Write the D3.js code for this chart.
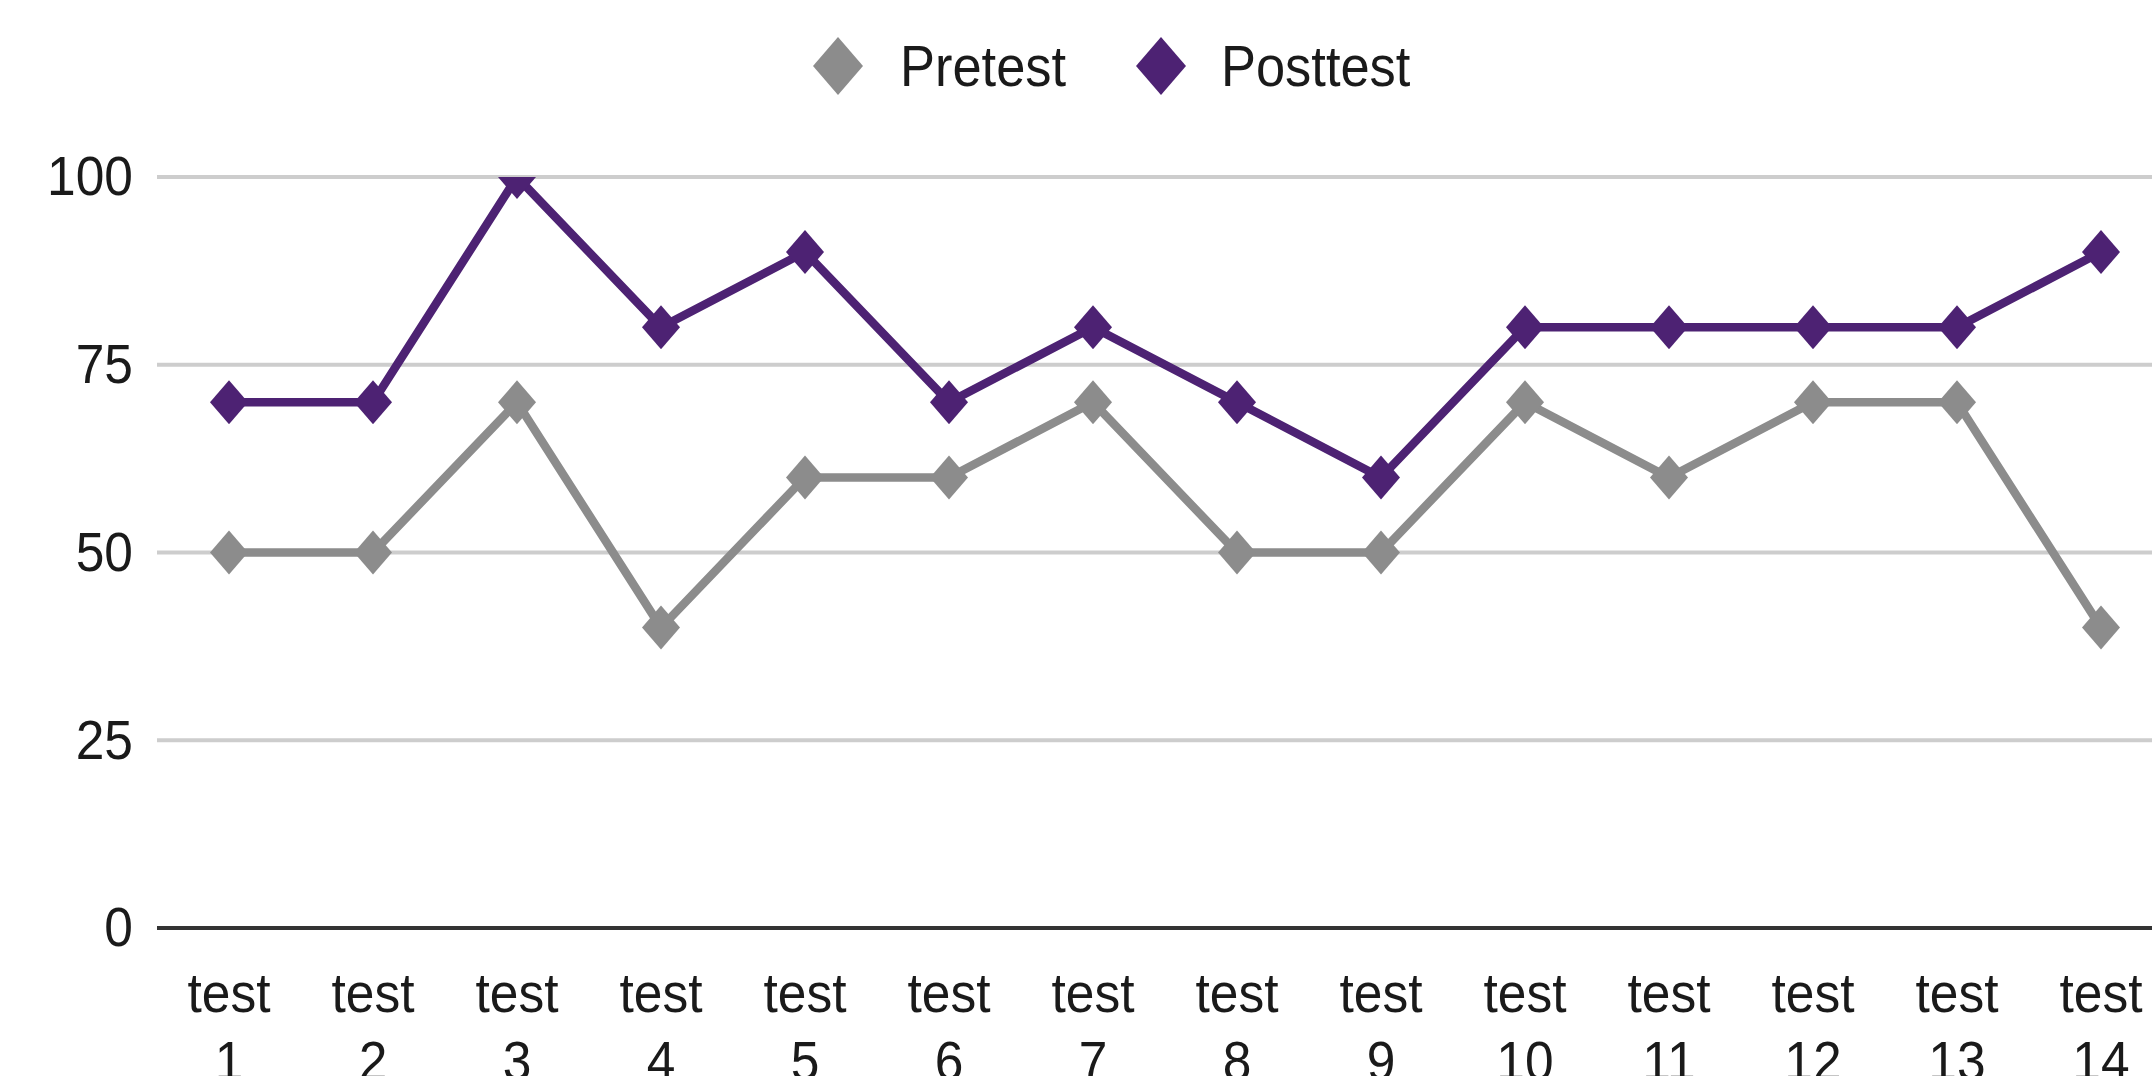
<!DOCTYPE html>
<html>
<head>
<meta charset="utf-8">
<script src="https://cdn.jsdelivr.net/npm/d3@7"></script>
<style>
  html, body { margin: 0; padding: 0; background: #fff; }
  svg text { font-family: "Liberation Sans", Arial, sans-serif; fill: #1a1a1a; }
</style>
</head>
<body>
<div id="chart"></div>
<script>
// chart values
const categories = ["test 1", "test 2", "test 3", "test 4", "test 5", "test 6", "test 7",
                    "test 8", "test 9", "test 10", "test 11", "test 12", "test 13", "test 14"];
const pretest  = [50, 50, 70, 40, 60, 60, 70, 50, 50, 70, 60, 70, 70, 40];
const posttest = [70, 70, 100, 80, 90, 70, 80, 70, 60, 80, 80, 80, 80, 90];
const yTicks = [0, 25, 50, 75, 100];
const seriesNames = ["Pretest", "Posttest"];

const width = 2152;
const height = 1076;
const squeeze = 0.92; // text looks a bit narrow in the original

const series = [
    { name: seriesNames[0], values: pretest, color: "#8c8c8c" },
    { name: seriesNames[1], values: posttest, color: "#4d2273" }
];

const svg = d3.select("#chart").append("svg")
    .attr("width", width)
    .attr("height", height);

const x = d3.scaleBand()
    .domain(categories)
    .range([157, 157 + 144 * categories.length])
    .padding(0);

const y = d3.scaleLinear()
    .domain([0, 100])
    .range([928, 177]);

const cx = d => x(d) + x.bandwidth() / 2;

// gridlines
svg.append("g")
    .selectAll("line")
    .data(yTicks.filter(t => t > 0))
    .enter()
    .append("line")
    .attr("x1", 157)
    .attr("x2", width)
    .attr("y1", d => y(d))
    .attr("y2", d => y(d))
    .attr("stroke", "#cdcdcd")
    .attr("stroke-width", 4);

// y axis labels
const yAxis = svg.append("g")
    .attr("transform", "translate(157,0)")
    .call(d3.axisLeft(y).tickValues(yTicks).tickSize(0).tickPadding(0));
yAxis.select(".domain").remove();
yAxis.selectAll("text")
    .attr("x", 0)
    .attr("transform", `translate(-24,0) scale(${squeeze},1)`)
    .style("font-size", "56px")
    .style("font-family", "Liberation Sans, Arial, sans-serif")
    .attr("fill", "#1a1a1a");

// baseline
svg.append("line")
    .attr("x1", 157)
    .attr("x2", width)
    .attr("y1", y(0))
    .attr("y2", y(0))
    .attr("stroke", "#333333")
    .attr("stroke-width", 4);

// x axis labels (two lines)
const xAxis = svg.append("g")
    .attr("transform", `translate(0,${y(0)})`)
    .call(d3.axisBottom(x).tickSize(0).tickFormat(""));
xAxis.select(".domain").remove();
xAxis.selectAll(".tick").each(function (d) {
    const t = d3.select(this).select("text")
        .text(null)
        .attr("y", 84)
        .attr("dy", 0)
        .attr("transform", `scale(${squeeze},1)`)
        .attr("text-anchor", "middle")
        .style("font-size", "56px")
        .style("font-family", "Liberation Sans, Arial, sans-serif")
        .attr("fill", "#1a1a1a");
    d.split(" ").forEach((part, i) => {
        t.append("tspan")
            .attr("x", 0)
            .attr("dy", i === 0 ? 0 : 68)
            .text(part);
    });
});

// clip plot area at the top like the original
svg.append("clipPath")
    .attr("id", "plot-clip")
    .append("rect")
    .attr("x", 0)
    .attr("y", y(100))
    .attr("width", width)
    .attr("height", height - y(100));

const diamond = (w, h) => `M0,${-h}L${w},0L0,${h}L${-w},0Z`;

const line = d3.line()
    .x((d, i) => cx(categories[i]))
    .y(d => y(d));

const plot = svg.append("g").attr("clip-path", "url(#plot-clip)");

series.forEach(s => {
    plot.append("path")
        .datum(s.values)
        .attr("d", line)
        .attr("fill", "none")
        .attr("stroke", s.color)
        .attr("stroke-width", 8.5)
        .attr("stroke-linejoin", "round");

    plot.append("g")
        .selectAll("path")
        .data(s.values)
        .enter()
        .append("path")
        .attr("d", diamond(19, 22))
        .attr("transform", (d, i) => `translate(${cx(categories[i])},${y(d)})`)
        .attr("fill", s.color);
});

// legend
const legendPos = [
    { mx: 838, tx: 900 },
    { mx: 1161, tx: 1221 }
];
const legend = svg.append("g");
series.forEach((s, i) => {
    legend.append("path")
        .attr("d", diamond(25, 29))
        .attr("transform", `translate(${legendPos[i].mx},66)`)
        .attr("fill", s.color);
    legend.append("text")
        .attr("transform", `translate(${legendPos[i].tx},86) scale(${squeeze},1)`)
        .style("font-size", "57px")
        .text(s.name);
});
</script>
</body>
</html>
